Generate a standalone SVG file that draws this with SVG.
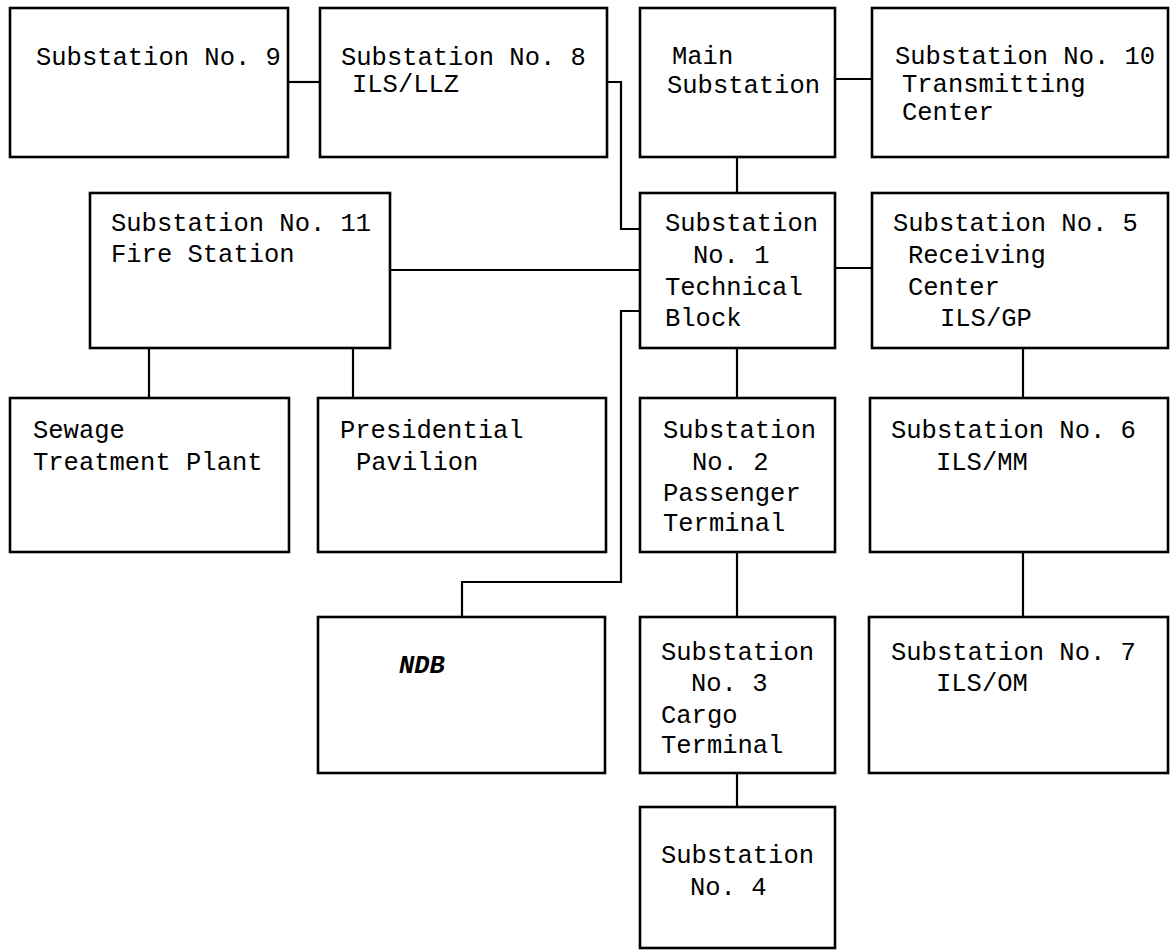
<svg xmlns="http://www.w3.org/2000/svg" width="1171" height="951" viewBox="0 0 1171 951">
<style>
.box{fill:none;stroke:#000;stroke-width:2.6}
.c{fill:none;stroke:#000;stroke-width:2.2}
.t{font-family:"Liberation Mono",monospace;font-size:25.5px;fill:#000}
.i{font-style:italic;font-weight:bold}
</style>
<rect width="1171" height="951" fill="#fff"/>
<g id="connectors">
<path class="c" d="M288,82H320"/>
<path class="c" d="M607,82H621V229H640"/>
<path class="c" d="M835,79H872"/>
<path class="c" d="M737,157V193"/>
<path class="c" d="M390,270H640"/>
<path class="c" d="M835,268H872"/>
<path class="c" d="M640,311H621V582H462V617"/>
<path class="c" d="M149,348V398"/>
<path class="c" d="M353,348V398"/>
<path class="c" d="M737,348V398"/>
<path class="c" d="M1023,348V398"/>
<path class="c" d="M737,552V617"/>
<path class="c" d="M1023,552V617"/>
<path class="c" d="M737,773V807"/>
</g>
<g id="sub9"><rect class="box" x="10" y="8" width="278" height="149"/><text class="t" x="36" y="65">Substation No. 9</text></g>
<g id="sub8"><rect class="box" x="320" y="8" width="287" height="149"/><text class="t" x="341" y="65">Substation No. 8</text><text class="t" x="352" y="92">ILS/LLZ</text></g>
<g id="main"><rect class="box" x="640" y="8" width="195" height="149"/><text class="t" x="672" y="64">Main</text><text class="t" x="667" y="93">Substation</text></g>
<g id="sub10"><rect class="box" x="872" y="8" width="296" height="149"/><text class="t" x="895" y="64">Substation No. 10</text><text class="t" x="902" y="92">Transmitting</text><text class="t" x="902" y="120">Center</text></g>
<g id="sub11"><rect class="box" x="90" y="193" width="300" height="155"/><text class="t" x="111" y="231">Substation No. 11</text><text class="t" x="111" y="262">Fire Station</text></g>
<g id="sub1"><rect class="box" x="640" y="193" width="195" height="155"/><text class="t" x="665" y="231">Substation</text><text class="t" x="693" y="263">No. 1</text><text class="t" x="665" y="295">Technical</text><text class="t" x="665" y="326">Block</text></g>
<g id="sub5"><rect class="box" x="872" y="193" width="296" height="155"/><text class="t" x="893" y="231">Substation No. 5</text><text class="t" x="908" y="263">Receiving</text><text class="t" x="908" y="295">Center</text><text class="t" x="940" y="326">ILS/GP</text></g>
<g id="sewage"><rect class="box" x="10" y="398" width="279" height="154"/><text class="t" x="33" y="438">Sewage</text><text class="t" x="33" y="470">Treatment Plant</text></g>
<g id="presidential"><rect class="box" x="318" y="398" width="288" height="154"/><text class="t" x="340" y="438">Presidential</text><text class="t" x="356" y="470">Pavilion</text></g>
<g id="sub2"><rect class="box" x="640" y="398" width="195" height="154"/><text class="t" x="663" y="438">Substation</text><text class="t" x="692" y="470">No. 2</text><text class="t" x="663" y="501">Passenger</text><text class="t" x="663" y="531">Terminal</text></g>
<g id="sub6"><rect class="box" x="870" y="398" width="298" height="154"/><text class="t" x="891" y="438">Substation No. 6</text><text class="t" x="936" y="470">ILS/MM</text></g>
<g id="ndb"><rect class="box" x="318" y="617" width="287" height="156"/><text class="t i" x="399" y="673">NDB</text></g>
<g id="sub3"><rect class="box" x="640" y="617" width="195" height="156"/><text class="t" x="661" y="660">Substation</text><text class="t" x="691" y="691">No. 3</text><text class="t" x="661" y="723">Cargo</text><text class="t" x="661" y="753">Terminal</text></g>
<g id="sub7"><rect class="box" x="869" y="617" width="299" height="156"/><text class="t" x="891" y="660">Substation No. 7</text><text class="t" x="936" y="691">ILS/OM</text></g>
<g id="sub4"><rect class="box" x="640" y="807" width="195" height="141"/><text class="t" x="661" y="863">Substation</text><text class="t" x="690" y="895">No. 4</text></g>
</svg>
